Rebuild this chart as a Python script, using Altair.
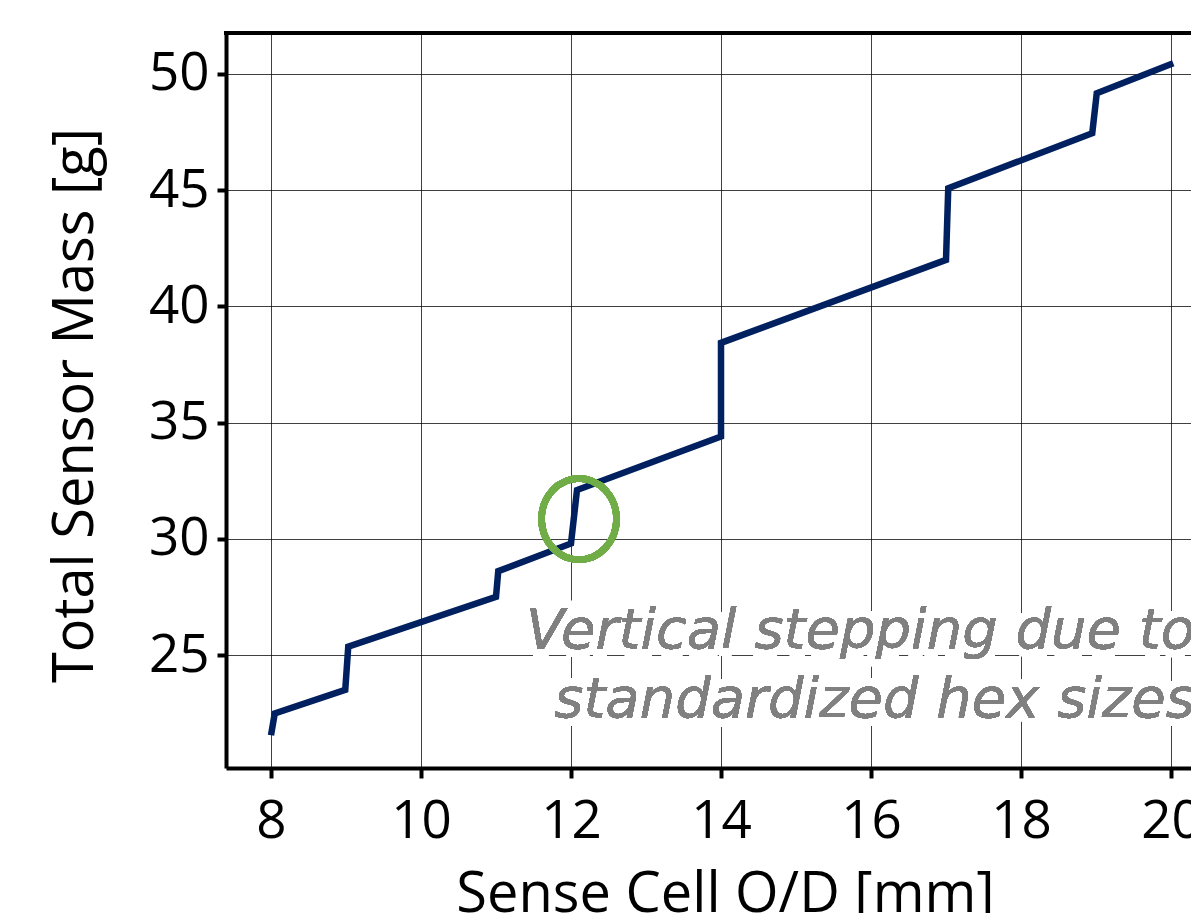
import altair as alt
import pandas as pd

# Sense cell O/D [mm] and total sensor mass [g]
od_mm = [8.0, 8.05, 8.99, 9.03, 11.0, 11.03, 12.0, 12.08, 14.0, 14.0, 17.0, 17.03, 18.95, 19.01, 20.03]
mass_g = [21.55, 22.49, 23.5, 25.36, 27.5, 28.61, 29.8, 32.1, 34.4, 38.43, 42.0, 45.08, 47.45, 49.17, 50.46]
order = list(range(len(od_mm)))

x_ticks = [8, 10, 12, 14, 16, 18, 20]
y_ticks = [25, 30, 35, 40, 45, 50]

note_line1 = "Vertical stepping due to"
note_line2 = "standardized hex sizes"
circle_x = 12.107
circle_y = 30.85

df = pd.DataFrame({"od": od_mm, "mass": mass_g, "order": order})

W, H = 973, 735
xscale = alt.Scale(domain=[7.4, 7.4 + W / 75.0], nice=False, zero=False)
yscale = alt.Scale(domain=[20.14, 51.76], nice=False, zero=False)

FONT = "Open Sans"

xaxis = alt.Axis(
    values=x_ticks, format="d", grid=True, gridColor="#000000", gridWidth=1, gridOpacity=0.75,
    domainColor="#000000", domainWidth=4, tickColor="#000000", tickWidth=4, tickSize=10,
    labelFont=FONT, labelFontSize=53, labelColor="#000000", labelPadding=17,
    labelOverlap=False, labelFlush=False,
    title="Sense Cell O/D [mm]", titleFont=FONT, titleFontSize=56, titleFontWeight="normal",
    titleColor="#000000", titlePadding=19, titleX=499,
)
yaxis = alt.Axis(
    values=y_ticks, format="d", grid=True, gridColor="#000000", gridWidth=1, gridOpacity=0.75,
    domainColor="#000000", domainWidth=4, tickColor="#000000", tickWidth=4, tickSize=9,
    labelFont=FONT, labelFontSize=53, labelColor="#000000", labelPadding=8,
    labelOverlap=False, labelFlush=False,
    title="Total Sensor Mass [g]", titleFont=FONT, titleFontSize=56, titleFontWeight="normal",
    titleColor="#000000", titleX=-151, titleY=372, titleBaseline="middle", titleAngle=-90,
)

line = alt.Chart(df).mark_line(color="#002060", strokeWidth=6.5).encode(
    x=alt.X("od:Q", scale=xscale, axis=xaxis),
    y=alt.Y("mass:Q", scale=yscale, axis=yaxis),
    order="order:Q",
)

top_border = alt.Chart(df).mark_rule(color="#000000", strokeWidth=4).encode(
    x=alt.value(-2), x2=alt.value(W), y=alt.value(0)
)

ring = alt.Chart(df).mark_point(
    shape="M -0.926 0 A 0.926 1 0 1 1 0.926 0 A 0.926 1 0 1 1 -0.926 0 Z",
    size=6561, filled=False, stroke="#70AD47", strokeWidth=6.5, opacity=1,
).encode(x=alt.datum(circle_x), y=alt.datum(circle_y))

NOTE_FONT = "DejaVu Sans"

def note(text, ypix):
    glow = alt.Chart(df).mark_text(
        text=text, font=NOTE_FONT, fontStyle="italic", fontSize=56,
        align="right", baseline="alphabetic", fill="#ffffff", stroke="#ffffff",
        strokeWidth=16, strokeOpacity=0.8, strokeJoin="round",
    ).encode(x=alt.value(969), y=alt.value(ypix))
    txt = alt.Chart(df).mark_text(
        text=text, font=NOTE_FONT, fontStyle="italic", fontSize=56,
        align="right", baseline="alphabetic", color="#808080",
    ).encode(x=alt.value(969), y=alt.value(ypix))
    return glow, txt

g1, t1 = note(note_line1, 615)
g2, t2 = note(note_line2, 684)

chart = alt.layer(line, top_border, g1, g2, t1, t2, ring).properties(
    width=W, height=H,
    padding={"left": 218, "top": 25, "right": -8, "bottom": 145},
    autosize=alt.AutoSizeParams(type="none"),
).configure_view(stroke=None).configure(background="#ffffff")

chart.save("out.html", embed_options={"renderer": "svg", "actions": False})
